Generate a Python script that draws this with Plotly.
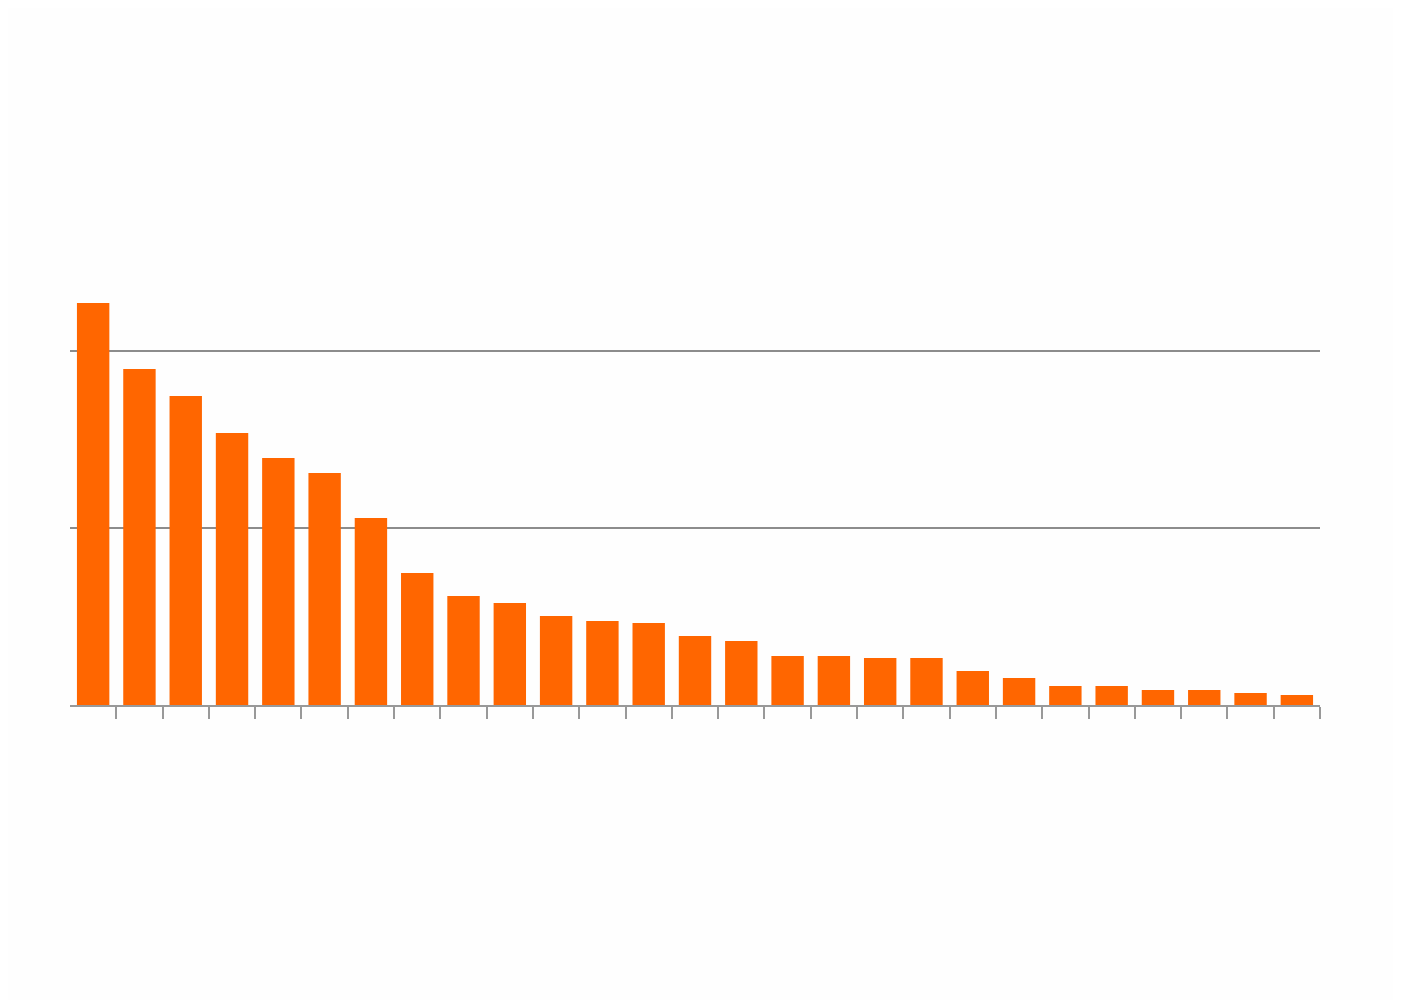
import plotly.graph_objects as go

categories = list(range(1, 28))
values = [2.271, 1.898, 1.746, 1.537, 1.395, 1.311, 1.056, 0.746, 0.616, 0.576,
          0.503, 0.475, 0.463, 0.390, 0.362, 0.277, 0.277, 0.266, 0.266, 0.192,
          0.153, 0.107, 0.107, 0.085, 0.085, 0.068, 0.056]

fig = go.Figure(go.Bar(x=categories, y=values, marker=dict(color="#FF6600", line=dict(width=0)),
                       width=0.7))

boundary_ticks = [c + 0.5 for c in categories]

fig.update_layout(
    width=1401, height=1000,
    margin=dict(l=62, r=89, t=166, b=303),
    paper_bgcolor="#FEFEFE", plot_bgcolor="#FEFEFE",
    showlegend=False,
    xaxis=dict(range=[0.5, 27.5], tickvals=boundary_ticks, showticklabels=False,
               ticks="outside", ticklen=12, tickwidth=2, tickcolor="#999999",
               showline=True, linecolor="#999999", linewidth=2, showgrid=False,
               zeroline=False),
    yaxis=dict(range=[0, 3], tickvals=[0, 1, 2], showticklabels=False,
               showgrid=True, gridcolor="#8C8C8C", gridwidth=2,
               zeroline=False, showline=False, ticks=""),
)

fig.write_html("out.html")
